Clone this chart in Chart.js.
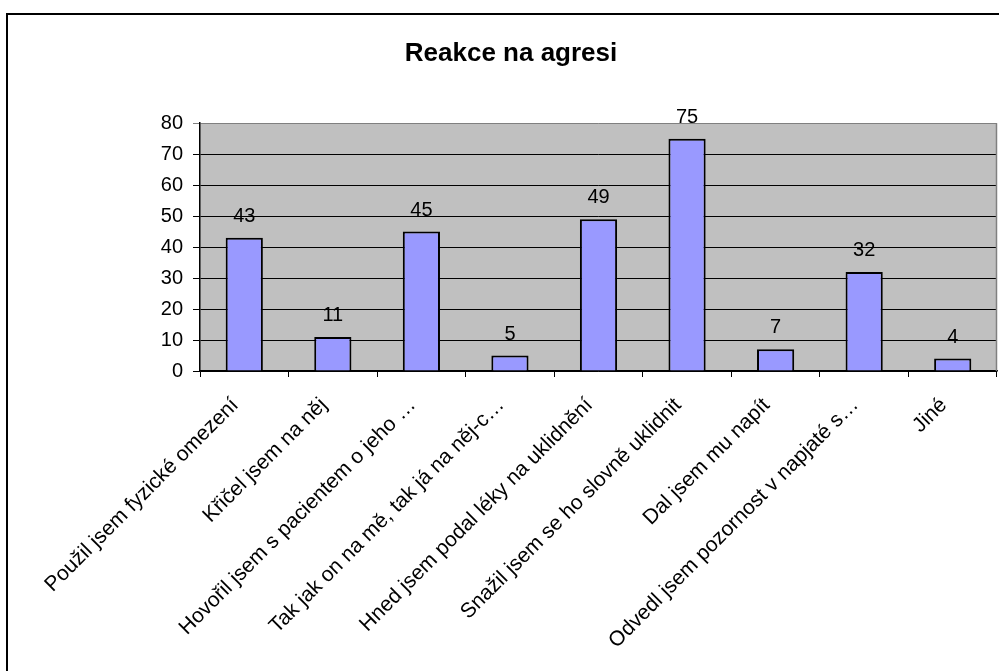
<!DOCTYPE html>
<html>
<head>
<meta charset="utf-8">
<script src="https://cdn.jsdelivr.net/npm/chart.js@4/dist/chart.umd.min.js"></script>
<style>
  html, body { margin: 0; padding: 0; background: #ffffff; }
  #wrap { width: 999px; height: 671px; position: relative; }
</style>
</head>
<body>
<div id="wrap"><canvas id="c" width="999" height="671"></canvas></div>
<script>
const chartTitle = "Reakce na agresi";
const categories = [
  "Použil jsem fyzické omezení",
  "Křičel jsem na něj",
  "Hovořil jsem s pacientem o jeho …",
  "Tak jak on na mě, tak já na něj-c…",
  "Hned jsem podal léky na uklidnění",
  "Snažil jsem se ho slovně uklidnit",
  "Dal jsem mu napít",
  "Odvedl jsem pozornost v napjaté s…",
  "Jiné"
];
const values = [43, 11, 45, 5, 49, 75, 7, 32, 4];
const yTicks = [0, 10, 20, 30, 40, 50, 60, 70, 80];

const FONT = "'Liberation Sans', Arial, sans-serif";

const plotBg = {
  id: 'plotBg',
  beforeDraw(chart) {
    const { ctx, chartArea: a } = chart;
    ctx.save();
    ctx.fillStyle = '#ffffff';
    ctx.fillRect(0, 0, chart.width, chart.height);
    ctx.fillStyle = '#c0c0c0';
    ctx.fillRect(a.left, a.top, a.right - a.left, a.bottom - a.top);
    ctx.restore();
  },
  beforeDatasetsDraw(chart) {
    const { ctx, chartArea: a } = chart;
    ctx.save();
    ctx.strokeStyle = '#808080';
    ctx.lineWidth = 1.5;
    ctx.beginPath();
    ctx.moveTo(a.right - 0.5, a.top);
    ctx.lineTo(a.right - 0.5, a.bottom);
    ctx.stroke();
    ctx.restore();
  },
  afterDraw(chart) {
    const { ctx } = chart;
    ctx.save();
    ctx.strokeStyle = '#000000';
    ctx.lineWidth = 2;
    ctx.beginPath();
    ctx.moveTo(7, chart.height);
    ctx.lineTo(7, 14);
    ctx.lineTo(chart.width, 14);
    ctx.stroke();
    ctx.restore();
  }
};

const valueLabels = {
  id: 'valueLabels',
  afterDatasetsDraw(chart) {
    const { ctx } = chart;
    const meta = chart.getDatasetMeta(0);
    ctx.save();
    ctx.fillStyle = '#000000';
    ctx.font = '20px ' + FONT;
    ctx.textAlign = 'center';
    ctx.textBaseline = 'alphabetic';
    meta.data.forEach((bar, i) => {
      ctx.fillText(String(chart.data.datasets[0].data[i]), bar.x, bar.y - 16);
    });
    ctx.restore();
  }
};

new Chart(document.getElementById('c'), {
  type: 'bar',
  data: {
    labels: categories,
    datasets: [{
      data: values,
      backgroundColor: '#9999ff',
      borderColor: '#000000',
      borderWidth: 2,
      categoryPercentage: 1.0,
      barPercentage: 0.42
    }]
  },
  options: {
    responsive: false,
    animation: false,
    devicePixelRatio: 1,
    layout: { padding: { left: 25, right: 2, top: 0, bottom: 0 } },
    plugins: {
      legend: { display: false },
      tooltip: { enabled: false },
      title: {
        display: true,
        text: chartTitle,
        color: '#000000',
        font: { family: FONT, size: 26, weight: 'bold', lineHeight: 1.2 },
        padding: { top: 38, bottom: 54 }
      }
    },
    scales: {
      x: {
        offset: true,
        grid: {
          offset: true,
          drawOnChartArea: false,
          drawTicks: true,
          tickLength: 6,
          color: '#000000'
        },
        border: { display: true, color: '#000000', width: 1.5 },
        ticks: {
          autoSkip: false,
          minRotation: 45,
          maxRotation: 45,
          color: '#000000',
          padding: 16,
          labelOffset: -9,
          font: { family: FONT, size: 21 }
        },
        afterFit(scale) { scale.height = 300; }
      },
      y: {
        min: 0,
        max: 80,
        afterBuildTicks(scale) { scale.ticks = yTicks.map(v => ({ value: v })); },
        grid: {
          color: (c) => (c.tick && c.tick.value === 80) ? '#808080' : '#000000',
          lineWidth: 1,
          drawTicks: true,
          tickLength: 7
        },
        border: { display: true, color: '#000000', width: 1.5 },
        ticks: {
          color: '#000000',
          padding: 10,
          font: { family: FONT, size: 20 }
        },
        afterFit(scale) { scale.width = 175; }
      }
    }
  },
  plugins: [plotBg, valueLabels]
});
</script>
</body>
</html>
